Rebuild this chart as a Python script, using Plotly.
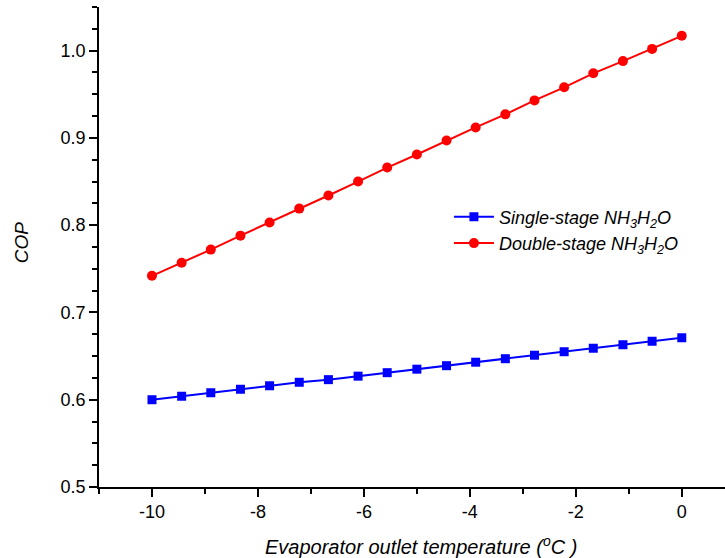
import plotly.graph_objects as go

# Evaporator outlet temperature (°C)
temperature = [-10.0, -9.44, -8.89, -8.33, -7.78, -7.22, -6.67, -6.11, -5.56, -5.0,
               -4.44, -3.89, -3.33, -2.78, -2.22, -1.67, -1.11, -0.56, 0.0]

# COP of the single-stage NH3-H2O cycle
cop_single = [0.600, 0.604, 0.608, 0.612, 0.616, 0.620, 0.623, 0.627, 0.631, 0.635,
              0.639, 0.643, 0.647, 0.651, 0.655, 0.659, 0.663, 0.667, 0.671]

# COP of the double-stage NH3-H2O cycle
cop_double = [0.742, 0.757, 0.772, 0.788, 0.803, 0.819, 0.834, 0.850, 0.866, 0.881,
              0.897, 0.912, 0.927, 0.943, 0.958, 0.974, 0.988, 1.002, 1.017]

x_ticks = [-10, -8, -6, -4, -2, 0]
x_tick_labels = ["-10", "-8", "-6", "-4", "-2", "0"]
y_ticks = [0.5, 0.6, 0.7, 0.8, 0.9, 1.0]
y_tick_labels = ["0.5", "0.6", "0.7", "0.8", "0.9", "1.0"]

FONT = "Liberation Sans, Arial, sans-serif"

fig = go.Figure()
fig.add_trace(go.Scatter(
    x=temperature, y=cop_single, mode="lines+markers",
    name="<i>Single-stage NH<sub>3</sub>H<sub>2</sub>O</i>",
    line=dict(color="#0000FF", width=2),
    marker=dict(symbol="square", size=9, color="#0000FF"),
))
fig.add_trace(go.Scatter(
    x=temperature, y=cop_double, mode="lines+markers",
    name="<i>Double-stage NH<sub>3</sub>H<sub>2</sub>O</i>",
    line=dict(color="#FF0000", width=2),
    marker=dict(symbol="circle", size=10, color="#FF0000"),
))

axis_common = dict(
    showline=True, linecolor="black", linewidth=1.5,
    ticks="outside", ticklen=8, tickwidth=1.5, tickcolor="black",
    showgrid=False, zeroline=False, mirror=False,
    tickfont=dict(family=FONT, size=18, color="black"),
)

fig.update_layout(
    width=725, height=558,
    margin=dict(l=99, r=0, t=7, b=71),
    paper_bgcolor="white", plot_bgcolor="white",
    font=dict(family=FONT, color="black"),
    showlegend=True,
    legend=dict(
        x=0.559, y=0.601, xanchor="left", yanchor="top",
        bgcolor="rgba(0,0,0,0)", borderwidth=0,
        font=dict(family=FONT, size=18, color="black"),
        tracegroupgap=0, itemwidth=40,
    ),
    xaxis=dict(
        **axis_common,
        range=[-11.0, 0.816],
        tickmode="array", tickvals=x_ticks, ticktext=x_tick_labels,
        minor=dict(dtick=1, tick0=0, ticks="outside", ticklen=5,
                   tickwidth=1.5, tickcolor="black"),
    ),
    yaxis=dict(
        **axis_common,
        range=[0.5, 1.05],
        tickmode="array", tickvals=y_ticks, ticktext=y_tick_labels,
        minor=dict(dtick=0.025, tick0=0.5, ticks="outside", ticklen=5,
                   tickwidth=1.5, tickcolor="black"),
    ),
    annotations=[
        dict(text="<i>Evaporator outlet temperature (<sup>o</sup>C )</i>",
             x=0.514, y=-0.121, xref="paper", yref="paper",
             xanchor="center", yanchor="middle", showarrow=False,
             font=dict(family=FONT, size=20, color="black")),
        dict(text="<i>COP</i>", textangle=-90,
             x=-0.1246, y=0.51, xref="paper", yref="paper",
             xanchor="center", yanchor="middle", showarrow=False,
             font=dict(family=FONT, size=19, color="black")),
    ],
)

fig.write_html("out.html")
